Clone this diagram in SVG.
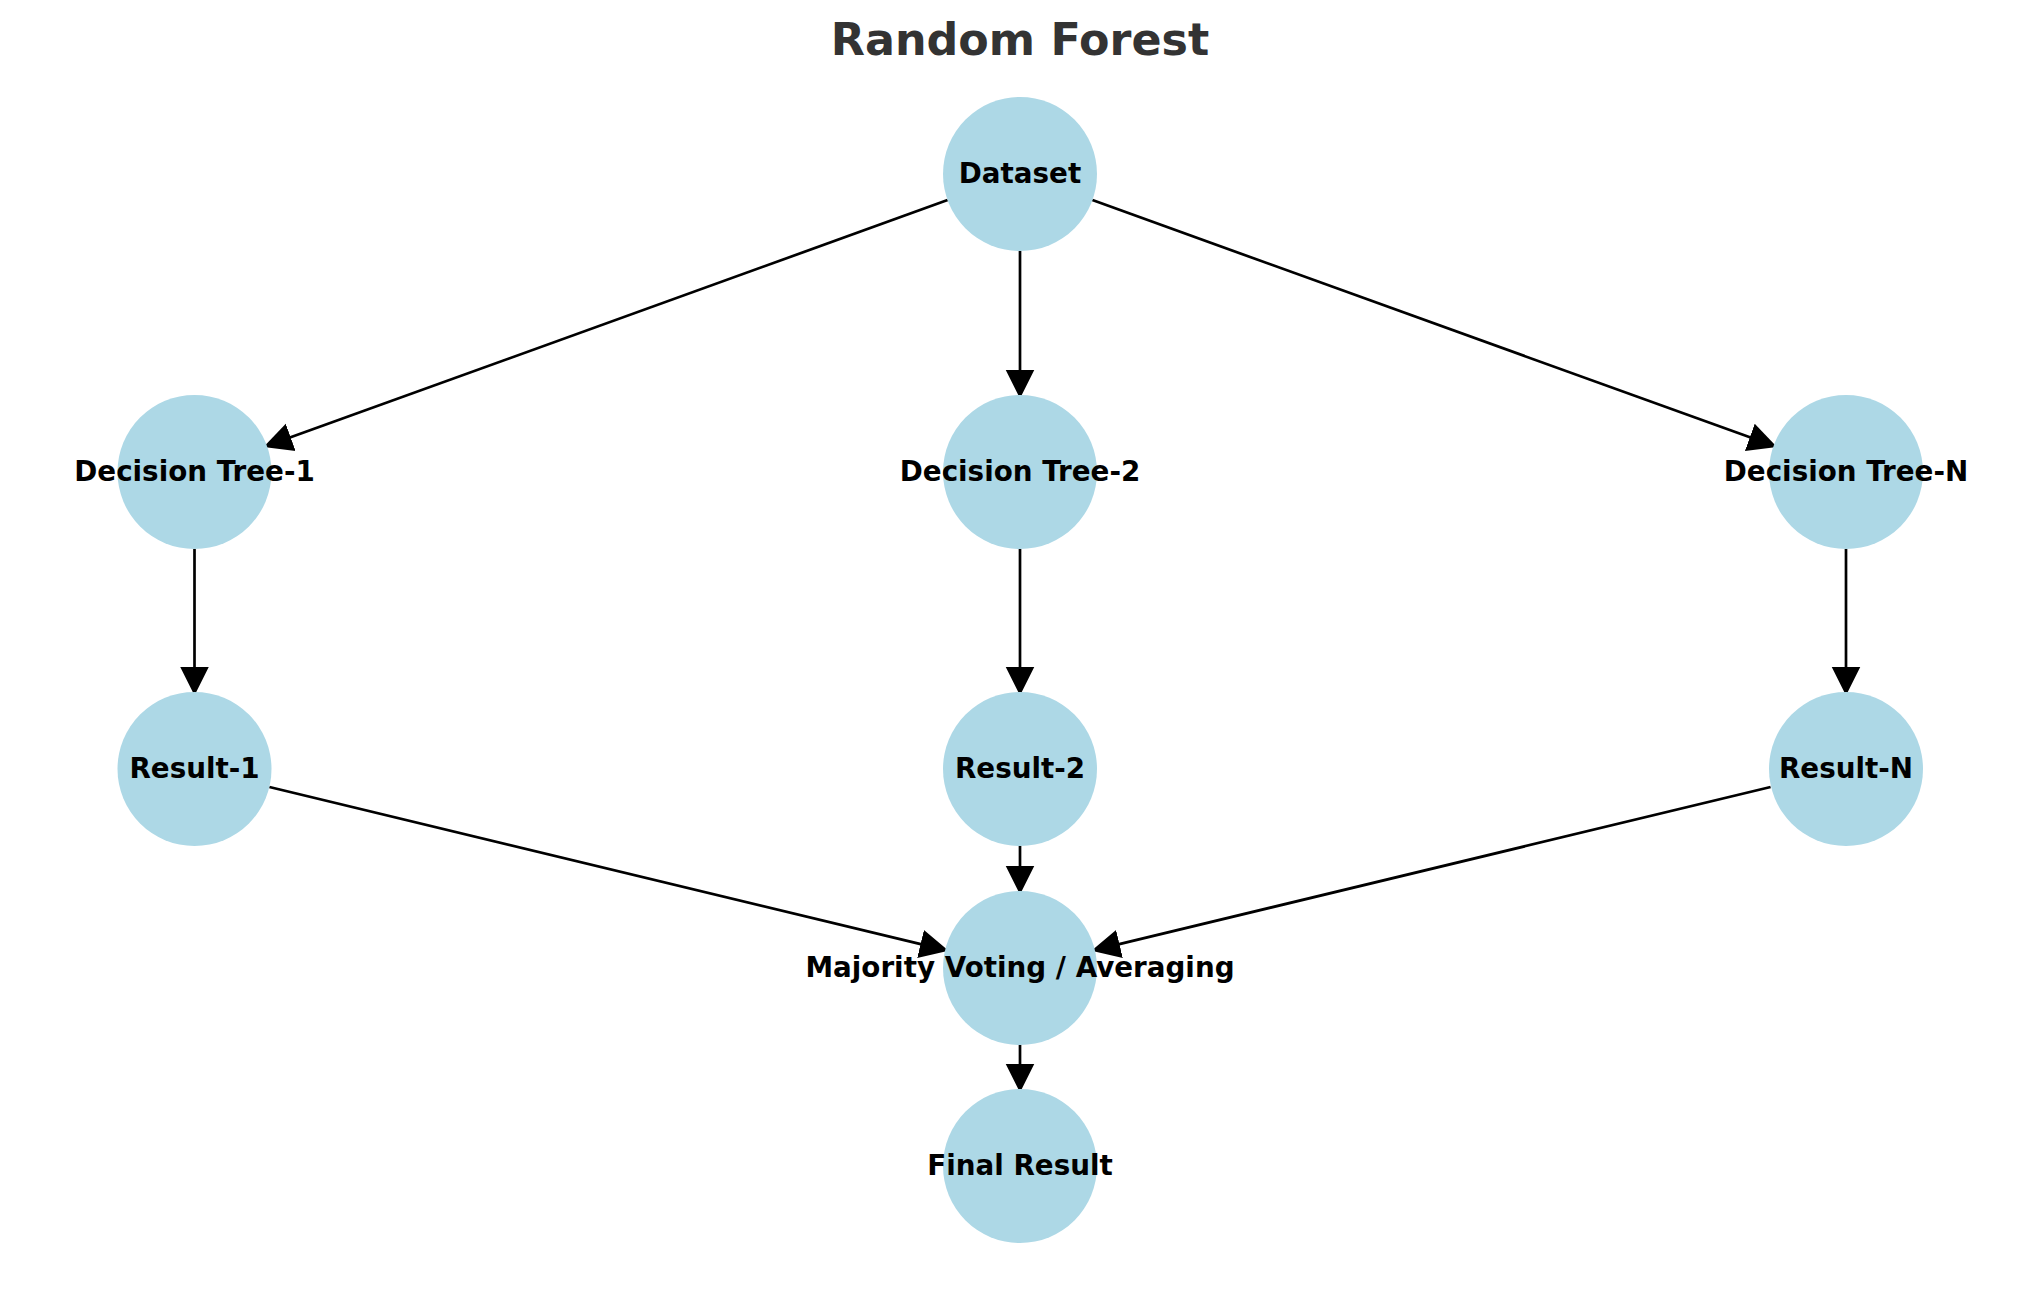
<svg xmlns="http://www.w3.org/2000/svg" width="2039" height="1290" viewBox="0 0 2039 1290">
<defs>
<style>
.node circle{fill:#ADD8E6;}
.node text{font-family:"DejaVu Sans",sans-serif;font-weight:bold;font-size:27.78px;fill:#000;text-anchor:middle;}
.title{font-family:"DejaVu Sans",sans-serif;font-weight:bold;font-size:44.4px;fill:#333333;text-anchor:middle;}
#edges line{stroke:#000;stroke-width:2.7;fill:none;marker-end:url(#arrow);}
</style>
<marker id="arrow" markerUnits="userSpaceOnUse" markerWidth="30" markerHeight="30" viewBox="0 -13 26 26" refX="2" refY="0" orient="auto">
<path d="M0,-12.5 L25,0 L0,12.5 z" fill="#000"/>
</marker>
</defs>
<rect width="2039" height="1290" fill="#fff"/>
<text class="title" x="1020" y="55">Random Forest</text>
<g id="edges">
<line x1="947.6" y1="200.1" x2="288.5" y2="438.1"/>
<line x1="1020" y1="251" x2="1020" y2="372"/>
<line x1="1092.4" y1="200.1" x2="1752" y2="438.1"/>
<line x1="194.5" y1="549" x2="194.5" y2="669"/>
<line x1="1020" y1="549" x2="1020" y2="669"/>
<line x1="1846" y1="549" x2="1846" y2="669"/>
<line x1="269.4" y1="787" x2="922.8" y2="944.6"/>
<line x1="1020" y1="846" x2="1020" y2="868"/>
<line x1="1770.6" y1="787" x2="1117.2" y2="944.6"/>
<line x1="1020" y1="1045" x2="1020" y2="1066"/>
</g>
<g id="node-dataset" class="node"><circle cx="1020" cy="174" r="77"/><text x="1020" y="183">Dataset</text></g>
<g id="node-tree1" class="node"><circle cx="194.5" cy="472" r="77"/><text x="194.5" y="481">Decision Tree-1</text></g>
<g id="node-tree2" class="node"><circle cx="1020" cy="472" r="77"/><text x="1020" y="481">Decision Tree-2</text></g>
<g id="node-treeN" class="node"><circle cx="1846" cy="472" r="77"/><text x="1846" y="481">Decision Tree-N</text></g>
<g id="node-result1" class="node"><circle cx="194.5" cy="769" r="77"/><text x="194.5" y="778">Result-1</text></g>
<g id="node-result2" class="node"><circle cx="1020" cy="769" r="77"/><text x="1020" y="778">Result-2</text></g>
<g id="node-resultN" class="node"><circle cx="1846" cy="769" r="77"/><text x="1846" y="778">Result-N</text></g>
<g id="node-majority" class="node"><circle cx="1020" cy="968" r="77"/><text x="1020" y="977">Majority Voting / Averaging</text></g>
<g id="node-final" class="node"><circle cx="1020" cy="1166" r="77"/><text x="1020" y="1175">Final Result</text></g>
</svg>
